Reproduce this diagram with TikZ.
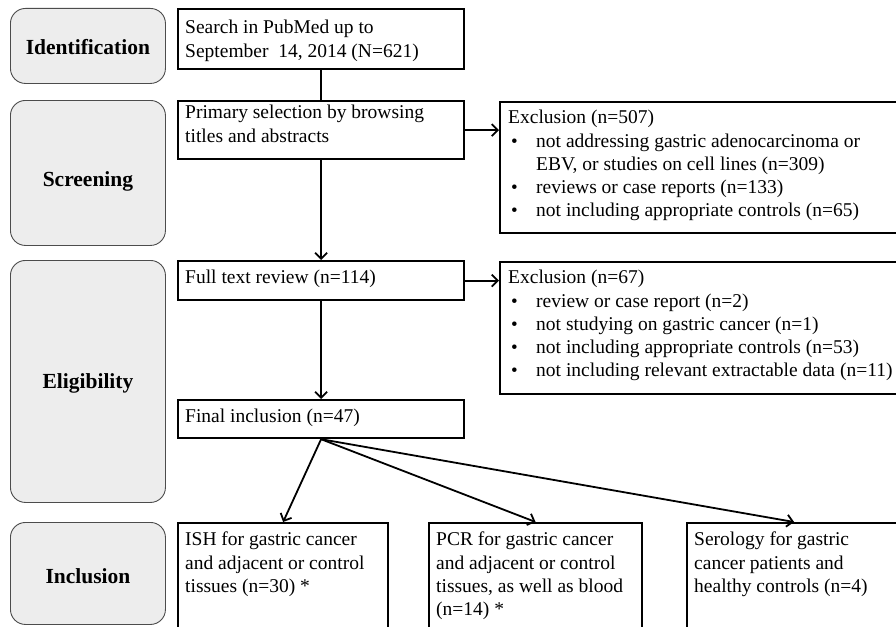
\documentclass[tikz,border=0pt]{standalone}
\usepackage{fontspec}
\setmainfont{Liberation Serif}
\usetikzlibrary{arrows.meta}
\newcommand{\blt}{\hspace*{3pt}\makebox[25pt][l]{\fontsize{19}{19}\selectfont\textbullet}}
\begin{document}
\begin{tikzpicture}[x=1pt,y=-1pt,
  phase/.style={draw=black!70, line width=0.9pt, fill=black!7, rounded corners=15pt, anchor=north west, inner sep=0pt, minimum width=155pt},
  phasetxt/.style={font=\bfseries\fontsize{21.5}{24}\selectfont, inner sep=0pt},
  box/.style={draw=black, line width=2.2pt, anchor=north west, inner sep=0pt, fill=white},
  txt/.style={anchor=north west, align=left, inner sep=0pt, font=\fontsize{19.5}{23.3}\selectfont},
  arr/.style={line width=1.8pt, -{Straight Barb[length=6pt,width=12pt]}},
  conn/.style={line width=1.8pt}
]
\useasboundingbox (0,0) rectangle (896,626);
\clip (0,0) rectangle (896,626);
\fill[white] (0,0) rectangle (896,626);

% phase boxes
\node[phase, minimum height=75pt] (pid) at (10,8) {};
\node[phasetxt] (pidT) at ([yshift=-1pt]pid.center) {Identification};
\node[phase, minimum height=145pt] (pscr) at (10,100) {};
\node[phasetxt] (pscrT) at ([yshift=-8pt]pscr.center) {Screening};
\node[phase, minimum height=242pt] (pel) at (10,260) {};
\node[phasetxt] (pelT) at ([yshift=-2pt]pel.center) {Eligibility};
\node[phase, minimum height=102pt] (pinc) at (10,522) {};
\node[phasetxt] (pincT) at ([yshift=-3pt]pinc.center) {Inclusion};

% main boxes
\node[box, minimum width=286pt, minimum height=60pt] (search) at (177,8) {};
\node[txt] (searchT) at ([shift={(8,12)}]search.north west) {Search in PubMed up to\\September~~14, 2014 (N=621)};

\node[box, minimum width=286pt, minimum height=58pt] (primary) at (177,100) {};
\node[txt] (primaryT) at ([shift={(8,5)}]primary.north west) {Primary selection by browsing\\titles and abstracts};

\node[box, minimum width=420pt, minimum height=131pt] (excl1) at (499,101) {};
\node[txt] (excl1T) at ([shift={(9,9)}]excl1.north west) {Exclusion (n=507)\\
\blt not addressing gastric adenocarcinoma or\\
\hspace*{28pt}EBV, or studies on cell lines (n=309)\\
\blt reviews or case reports (n=133)\\
\blt not including appropriate controls (n=65)};

\node[box, minimum width=286pt, minimum height=39pt] (fulltext) at (177,260) {};
\node[txt] (fulltextT) at ([shift={(8,10)}]fulltext.north west) {Full text review (n=114)};

\node[box, minimum width=420pt, minimum height=132pt] (excl2) at (499,261) {};
\node[txt] (excl2T) at ([shift={(9,9)}]excl2.north west) {Exclusion (n=67)\\
\blt review or case report (n=2)\\
\blt not studying on gastric cancer (n=1)\\
\blt not including appropriate controls (n=53)\\
\blt not including relevant extractable data (n=11)};

\node[box, minimum width=286pt, minimum height=38pt] (final) at (177,399) {};
\node[txt] (finalT) at ([shift={(8,10)}]final.north west) {Final inclusion (n=47)};

\node[box, minimum width=210pt, minimum height=130pt] (ish) at (177,522) {};
\node[txt] (ishT) at ([shift={(8,10)}]ish.north west) {ISH for gastric cancer\\and adjacent or control\\tissues (n=30) *};

\node[box, minimum width=213pt, minimum height=130pt] (pcr) at (428,522) {};
\node[txt] (pcrT) at ([shift={(8,10)}]pcr.north west) {PCR for gastric cancer\\and adjacent or control\\tissues, as well as blood\\(n=14) *};

\node[box, minimum width=214pt, minimum height=130pt] (sero) at (686,522) {};
\node[txt] (seroT) at ([shift={(8,10)}]sero.north west) {Serology for gastric\\cancer patients and\\healthy controls (n=4)};

% connectors
\draw[conn] (search) -- (primary);
\draw[arr] (primary) -- (fulltext);
\draw[arr] (primary.east) -- (primary.east -| excl1.west);
\draw[arr] (fulltext.east) -- (fulltext.east -| excl2.west);
\draw[arr] (fulltext) -- (final);
\draw[arr] (final.south) -- (ish.north);
\draw[arr] (final.south) -- (pcr.north);
\draw[arr] (final.south) -- (sero.north);
\end{tikzpicture}
\end{document}
